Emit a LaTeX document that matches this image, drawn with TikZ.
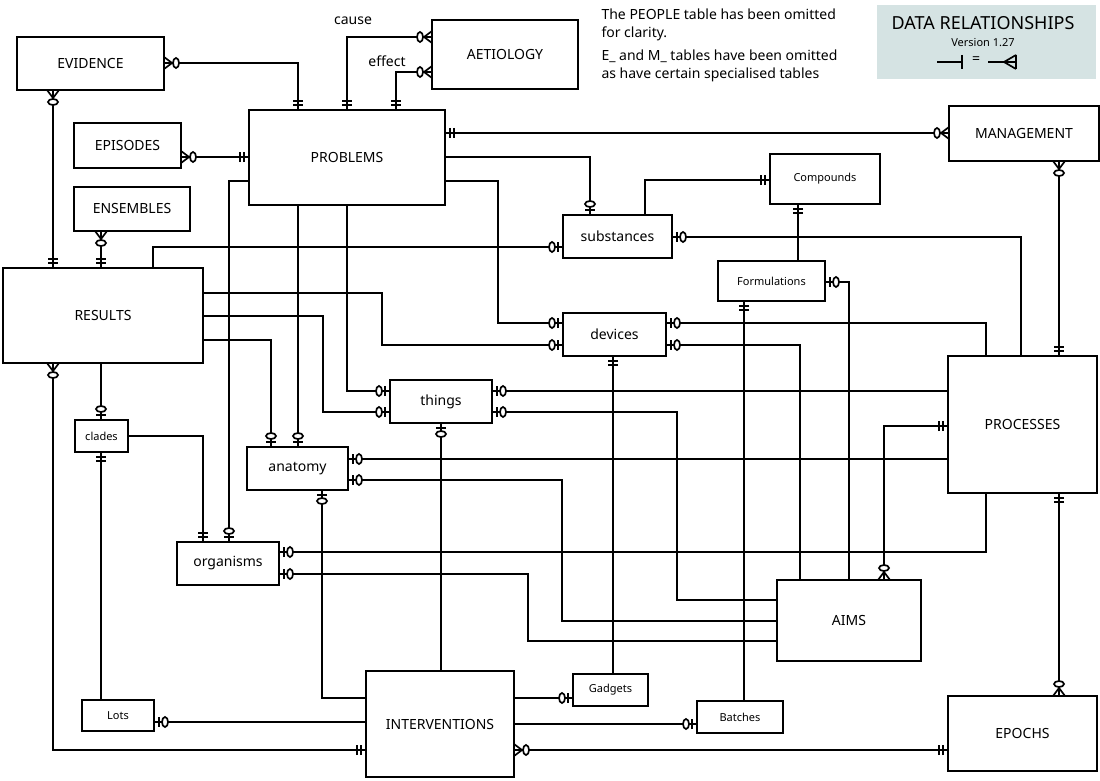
\documentclass[tikz,border=0pt]{standalone}
\usepackage{fontspec}
\setmainfont{Noto Sans}
\begin{document}
\begin{tikzpicture}[x=1pt,y=-1pt,
  box/.style={draw,line width=1.6pt,inner sep=0pt,font=\fontsize{14}{16}\selectfont},
  sbox/.style={box,font=\fontsize{11}{13}\selectfont},
  conn/.style={line width=1.5pt},
  mk/.style={line width=1.7pt}]
\newcommand\mkMO{\draw[mk] (5,-5)--(5,5) (9,-5)--(9,5);}
\newcommand\mkZO{\draw[mk] (5,-5)--(5,5); \draw[mk,fill=white] (11,0) ellipse [x radius=3, y radius=5];}
\newcommand\mkZM{\draw[mk] (0,-6)--(8,0)--(0,6); \draw[mk,fill=white] (12,0) ellipse [x radius=3, y radius=5];}
\newcommand\mkr[4]{\begin{scope}[shift={(#2,#3)},rotate=#4]\csname mk#1\endcsname\end{scope}}
\path[use as bounding box] (0,0) rectangle (1100,781);
\fill[fill={rgb,255:red,213;green,227;blue,227}] (877,5) rectangle (1096,79);
\node[font=\fontsize{18}{20}\selectfont] (title) at (983,23) {DATA RELATIONSHIPS};
\node[font=\fontsize{11}{13}\selectfont] (ver) at (983,43) {Version 1.27};
\node[font=\fontsize{14}{16}\selectfont] (eq) at (976,60) {=};
\coordinate (la) at (937,62); \coordinate (lb) at (962,62);
\coordinate (lc) at (988,62); \coordinate (ld) at (1016,62);
\draw[conn] (la)--(lb); \draw[mk] (962,55)--(962,69);
\draw[conn] (lc)--(ld); \draw[mk] (1016,55)--(1016,69) (1016,55)--(1004,62)--(1016,69);
\node[anchor=north west,align=left,font=\fontsize{14}{18}\selectfont] (note1) at (598,5) {The PEOPLE table has been omitted\\for clarity.};
\node[anchor=north west,align=left,font=\fontsize{14}{18}\selectfont] (note2) at (598,46) {E\_ and M\_ tables have been omitted\\as have certain specialised tables};

\node[box,minimum width=147,minimum height=53] (ev) at (90.5,63.5) {EVIDENCE};
\node[box,minimum width=146,minimum height=69] (ae) at (505,54.5) {AETIOLOGY};
\node[box,minimum width=196,minimum height=95] (pr) at (347,157.5) {PROBLEMS};
\node[box,minimum width=107,minimum height=45] (ep) at (127.5,145.5) {EPISODES};
\node[box,minimum width=116,minimum height=44] (en) at (132,209) {ENSEMBLES};
\node[box,minimum width=200,minimum height=95] (re) at (103,315.5) {RESULTS};
\node[box,minimum width=150,minimum height=55] (ma) at (1024,133.5) {MANAGEMENT};
\node[sbox,minimum width=110,minimum height=50] (co) at (825,179) {Compounds};
\node[box,minimum width=109,minimum height=43] (su) at (617.5,236.5) {substances};
\node[sbox,minimum width=107,minimum height=40] (fo) at (771.5,281) {Formulations};
\node[box,minimum width=103,minimum height=43] (de) at (614.5,334.5) {devices};
\node[box,minimum width=102,minimum height=43] (th) at (441,401.5) {things};
\node[box,minimum width=149,minimum height=137] (ps) at (1022.5,424.5) {PROCESSES};
\node[sbox,minimum width=53,minimum height=32] (cl) at (101.5,436) {clades};
\node[box,minimum width=101,minimum height=43] (an) at (297.5,468.5) {anatomy};
\node[box,minimum width=102,minimum height=43] (or) at (228,563.5) {organisms};
\node[box,minimum width=144,minimum height=81] (ai) at (849,620.5) {AIMS};
\node[sbox,minimum width=75,minimum height=32] (ga) at (610.5,690) {Gadgets};
\node[sbox,minimum width=72,minimum height=31] (lo) at (118,715.5) {Lots};
\node[box,minimum width=148,minimum height=106] (in) at (440,724) {INTERVENTIONS};
\node[sbox,minimum width=86,minimum height=32] (ba) at (740,717) {Batches};
\node[box,minimum width=149,minimum height=75] (eo) at (1022.5,733.5) {EPOCHS};

\node[font=\fontsize{14}{16}\selectfont] (lcause) at (353,21) {cause};
\node[font=\fontsize{14}{16}\selectfont] (leffect) at (387,61) {effect};

% connectors
\draw[conn] (164,63)--(298,63)--(298,110); \mkr{ZM}{164}{63}{0}\mkr{MO}{298}{110}{90}
\draw[conn] (432,37)--(347,37)--(347,110); \mkr{ZM}{432}{37}{180}\mkr{MO}{347}{110}{90}
\draw[conn] (432,72)--(396,72)--(396,110); \mkr{ZM}{432}{72}{180}\mkr{MO}{396}{110}{90}
\draw[conn] (53,90)--(53,268); \mkr{ZM}{53}{90}{-90}\mkr{MO}{53}{268}{90}
\draw[conn] (181,157)--(249,157); \mkr{ZM}{181}{157}{0}\mkr{MO}{249}{157}{180}
\draw[conn] (101,231)--(101,268); \mkr{ZM}{101}{231}{-90}\mkr{MO}{101}{268}{90}
\draw[conn] (445,133)--(949,133); \mkr{MO}{445}{133}{0}\mkr{ZM}{949}{133}{180}
\draw[conn] (445,157)--(590,157)--(590,215); \mkr{ZO}{590}{215}{90}
\draw[conn] (445,181)--(498,181)--(498,323)--(563,323); \mkr{ZO}{563}{323}{180}
\draw[conn] (153,268)--(153,247)--(563,247); \mkr{ZO}{563}{247}{180}
\draw[conn] (203,293)--(382,293)--(382,345)--(563,345); \mkr{ZO}{563}{345}{180}
\draw[conn] (203,316)--(323,316)--(323,412)--(390,412); \mkr{ZO}{390}{412}{180}
\draw[conn] (203,340)--(271,340)--(271,447); \mkr{ZO}{271}{447}{90}
\draw[conn] (298,205)--(298,447); \mkr{ZO}{298}{447}{90}
\draw[conn] (347,205)--(347,391)--(390,391); \mkr{ZO}{390}{391}{180}
\draw[conn] (249,181)--(229,181)--(229,542); \mkr{ZO}{229}{542}{90}
\draw[conn] (53,363)--(53,750)--(366,750); \mkr{ZM}{53}{363}{-90}\mkr{MO}{366}{750}{180}
\draw[conn] (101,363)--(101,420); \mkr{ZO}{101}{420}{90}
\draw[conn] (128,436)--(203,436)--(203,542); \mkr{MO}{203}{542}{90}
\draw[conn] (101,452)--(101,700); \mkr{MO}{101}{452}{-90}
\draw[conn] (645,215)--(645,180)--(770,180); \mkr{MO}{770}{180}{180}
\draw[conn] (672,237)--(1021,237)--(1021,356); \mkr{ZO}{672}{237}{0}
\draw[conn] (798,204)--(798,261); \mkr{MO}{798}{204}{-90}
\draw[conn] (825,282)--(849,282)--(849,580); \mkr{ZO}{825}{282}{0}
\draw[conn] (744,301)--(744,701); \mkr{MO}{744}{301}{-90}
\draw[conn] (666,323)--(986,323)--(986,356); \mkr{ZO}{666}{323}{0}
\draw[conn] (666,345)--(800,345)--(800,580); \mkr{ZO}{666}{345}{0}
\draw[conn] (613,356)--(613,674); \mkr{MO}{613}{356}{-90}
\draw[conn] (492,391)--(948,391); \mkr{ZO}{492}{391}{0}
\draw[conn] (492,412)--(677,412)--(677,600)--(777,600); \mkr{ZO}{492}{412}{0}
\draw[conn] (441,423)--(441,671); \mkr{ZO}{441}{423}{-90}
\draw[conn] (348,459)--(948,459); \mkr{ZO}{348}{459}{0}
\draw[conn] (348,480)--(562,480)--(562,621)--(777,621); \mkr{ZO}{348}{480}{0}
\draw[conn] (322,490)--(322,698)--(366,698); \mkr{ZO}{322}{490}{-90}
\draw[conn] (279,552)--(986,552)--(986,493); \mkr{ZO}{279}{552}{0}
\draw[conn] (279,574)--(528,574)--(528,641)--(777,641); \mkr{ZO}{279}{574}{0}
\draw[conn] (948,426)--(884,426)--(884,580); \mkr{MO}{948}{426}{180}\mkr{ZM}{884}{580}{90}
\draw[conn] (1059,161)--(1059,356); \mkr{ZM}{1059}{161}{-90}\mkr{MO}{1059}{356}{90}
\draw[conn] (1059,493)--(1059,696); \mkr{MO}{1059}{493}{-90}\mkr{ZM}{1059}{696}{90}
\draw[conn] (514,698)--(573,698); \mkr{ZO}{573}{698}{180}
\draw[conn] (514,724)--(697,724); \mkr{ZO}{697}{724}{180}
\draw[conn] (514,750)--(948,750); \mkr{ZM}{514}{750}{0}\mkr{MO}{948}{750}{180}
\draw[conn] (154,722)--(366,722); \mkr{ZO}{154}{722}{0}
\end{tikzpicture}
\end{document}
